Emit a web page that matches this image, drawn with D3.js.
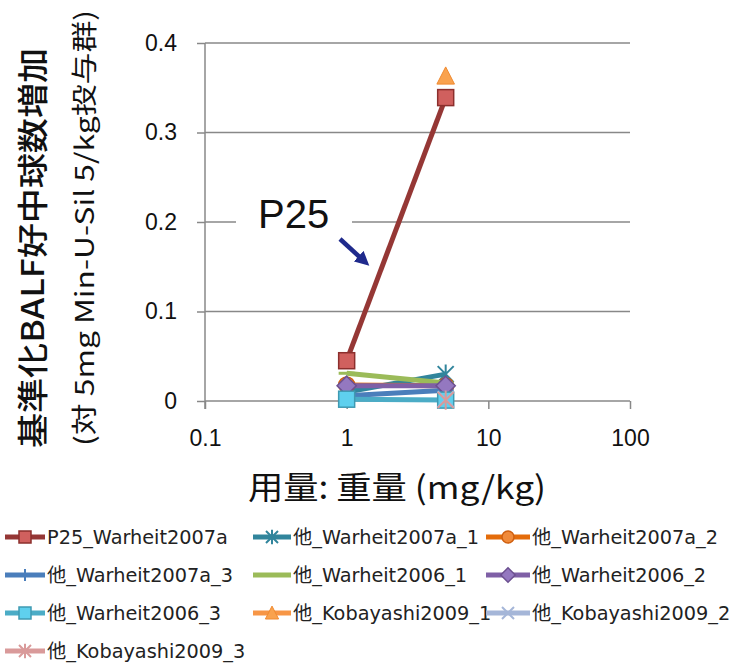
<!DOCTYPE html>
<html>
<head>
<meta charset="utf-8">
<script src="https://cdn.jsdelivr.net/npm/d3@7"></script>
<style>
  html, body { margin: 0; padding: 0; background: #fff; }
  svg { display: block; }
</style>
</head>
<body>
<svg id="chart" width="736" height="672"></svg>
<script>
// Doses (mg/kg) on a log axis
const doses = [1, 5];

// Normalised BALF neutrophil increase, one array per study series
const p25_Warheit2007a      = [0.045, 0.339];
const o_Warheit2007a_1      = [0.010, 0.030];
const o_Warheit2007a_2      = [0.018, 0.017];
const o_Warheit2007a_3      = [0.006, 0.012];
const o_Warheit2006_1       = [0.031, 0.020];
const o_Warheit2006_2       = [0.017, 0.017];
const o_Warheit2006_3       = [0.002, 0.001];
const o_Kobayashi2009_1     = [null, 0.363];
const o_Kobayashi2009_2     = [null, 0.002];
const o_Kobayashi2009_3     = [null, 0.001];

const seriesLabels = [
  "P25_Warheit2007a", "他_Warheit2007a_1", "他_Warheit2007a_2",
  "他_Warheit2007a_3", "他_Warheit2006_1", "他_Warheit2006_2",
  "他_Warheit2006_3", "他_Kobayashi2009_1", "他_Kobayashi2009_2",
  "他_Kobayashi2009_3"
];

const xTicks = [0.1, 1, 10, 100];
const xTickLabels = ["0.1", "1", "10", "100"];
const yTicks = [0, 0.1, 0.2, 0.3, 0.4];
const yTickLabels = ["0", "0.1", "0.2", "0.3", "0.4"];

const yTitle1 = "基準化BALF好中球数増加";
const yTitle2 = "(対 5mg Min-U-Sil 5/kg投与群)";
const xTitle = "用量: 重量 (mg/kg)";
const calloutText = "P25";

// Per-series look: line colour, marker shape, marker fill
const styles = [
  { line: "#953735", shape: "square",   fill: "#d0605e", edge: "#8c2f2d" },
  { line: "#31859c", shape: "star",     fill: "#31859c", edge: "#31859c" },
  { line: "#e46c0a", shape: "circle",   fill: "#f08a3a", edge: "#d06010" },
  { line: "#4a7ebb", shape: "plus",     fill: "#4a7ebb", edge: "#4a7ebb" },
  { line: "#9bbb59", shape: "dash",     fill: "#9bbb59", edge: "#9bbb59" },
  { line: "#7f60a6", shape: "diamond",  fill: "#9478c0", edge: "#6c5090" },
  { line: "#4bacc6", shape: "square",   fill: "#5fd0ee", edge: "#3f9ab2" },
  { line: "#f79646", shape: "triangle", fill: "#f9a24e", edge: "#f08a30" },
  { line: "#a5b6d8", shape: "x",        fill: "#a5b6d8", edge: "#a5b6d8" },
  { line: "#d99a9a", shape: "star",     fill: "#d99a9a", edge: "#d99a9a" }
];

const seriesValues = [
  p25_Warheit2007a, o_Warheit2007a_1, o_Warheit2007a_2, o_Warheit2007a_3,
  o_Warheit2006_1, o_Warheit2006_2, o_Warheit2006_3,
  o_Kobayashi2009_1, o_Kobayashi2009_2, o_Kobayashi2009_3
];

const series = seriesLabels.map((name, i) => ({
  name,
  style: styles[i],
  points: doses.map((d, j) => ({ x: d, y: seriesValues[i][j] })).filter(p => p.y !== null)
}));

const svg = d3.select("#chart");
const cjk = "'Noto Sans CJK JP', 'Noto Sans', sans-serif";
const latin = "'Liberation Sans', Arial, sans-serif";
const legendFont = "'DejaVu Sans', 'Noto Sans CJK JP', sans-serif";

const plot = { left: 205, right: 630, top: 43, bottom: 401 };
const x = d3.scaleLog().domain([0.1, 100]).range([plot.left, plot.right]);
const y = d3.scaleLinear().domain([0, 0.4]).range([plot.bottom, plot.top]);

const gridColor = "#888";

// horizontal gridlines
svg.append("g")
  .selectAll("line")
  .data(yTicks.filter(t => t > 0))
  .join("line")
  .attr("x1", plot.left).attr("x2", plot.right)
  .attr("y1", d => y(d)).attr("y2", d => y(d))
  .attr("stroke", gridColor).attr("stroke-width", 1.5);

// y axis
const yAxis = d3.axisLeft(y).tickValues(yTicks)
  .tickFormat((d, i) => yTickLabels[i]).tickSize(8).tickPadding(20);
const gy = svg.append("g").attr("transform", `translate(${plot.left},0)`).call(yAxis);
gy.select(".domain").attr("stroke", gridColor).attr("stroke-width", 1.5)
  .attr("d", `M0,${plot.top}V${plot.bottom + 8}`);
gy.selectAll(".tick line").attr("stroke", gridColor).attr("stroke-width", 1.5);
gy.selectAll(".tick text").attr("font-family", latin).attr("font-size", 23).attr("fill", "#111");

// x axis
const xAxis = d3.axisBottom(x).tickValues(xTicks)
  .tickFormat((d, i) => xTickLabels[i]).tickSize(8).tickPadding(21);
const gx = svg.append("g").attr("transform", `translate(0,${plot.bottom})`).call(xAxis);
gx.select(".domain").attr("stroke", gridColor).attr("stroke-width", 1.5)
  .attr("d", `M${plot.left},0H${plot.right}`);
gx.selectAll(".tick line").attr("stroke", gridColor).attr("stroke-width", 1.5);
gx.selectAll(".tick text").attr("font-family", latin).attr("font-size", 23).attr("fill", "#111");

// axis titles
svg.append("text")
  .attr("transform", "translate(44,248) rotate(-90)")
  .attr("text-anchor", "middle")
  .attr("font-family", cjk).attr("font-size", 31).attr("font-weight", 500)
  .attr("textLength", 400).attr("lengthAdjust", "spacingAndGlyphs")
  .attr("fill", "#111")
  .text(yTitle1);
svg.append("text")
  .attr("transform", "translate(94,228) rotate(-90)")
  .attr("text-anchor", "middle")
  .attr("font-family", cjk).attr("font-size", 26)
  .attr("textLength", 436).attr("lengthAdjust", "spacingAndGlyphs")
  .attr("fill", "#111")
  .text(yTitle2);
svg.append("text")
  .attr("x", 397).attr("y", 499)
  .attr("text-anchor", "middle")
  .attr("font-family", cjk).attr("font-size", 32)
  .attr("textLength", 298).attr("lengthAdjust", "spacingAndGlyphs")
  .attr("fill", "#111")
  .text(xTitle);

// marker drawing
function marker(g, shape, s, st) {
  const sw = 2;
  switch (shape) {
    case "square":
      g.append("rect").attr("x", -s).attr("y", -s).attr("width", 2 * s).attr("height", 2 * s)
        .attr("fill", st.fill).attr("stroke", st.edge).attr("stroke-width", 1.5);
      break;
    case "circle":
      g.append("circle").attr("r", s).attr("fill", st.fill).attr("stroke", st.edge).attr("stroke-width", 1.5);
      break;
    case "diamond":
      g.append("path").attr("d", `M0,${-s * 1.2}L${s * 1.2},0L0,${s * 1.2}L${-s * 1.2},0Z`)
        .attr("fill", st.fill).attr("stroke", st.edge).attr("stroke-width", 1.5);
      break;
    case "triangle":
      g.append("path").attr("d", `M0,${-s * 1.15}L${s * 1.1},${s}L${-s * 1.1},${s}Z`)
        .attr("fill", st.fill).attr("stroke", st.edge).attr("stroke-width", 1);
      break;
    case "star":
      g.append("path").attr("d", `M${-s},${-s}L${s},${s}M${-s},${s}L${s},${-s}M0,${-s * 1.2}L0,${s * 1.2}`)
        .attr("stroke", st.edge).attr("stroke-width", sw).attr("fill", "none");
      break;
    case "x":
      g.append("path").attr("d", `M${-s},${-s}L${s},${s}M${-s},${s}L${s},${-s}`)
        .attr("stroke", st.edge).attr("stroke-width", sw).attr("fill", "none");
      break;
    case "plus":
      g.append("path").attr("d", `M0,${-s}L0,${s}M${-s},0L${s},0`)
        .attr("stroke", st.edge).attr("stroke-width", sw).attr("fill", "none");
      break;
    case "dash":
      g.append("path").attr("d", `M${-s},0L${s},0`)
        .attr("stroke", st.edge).attr("stroke-width", 3).attr("fill", "none");
      break;
  }
}

// series lines and markers
const line = d3.line().x(d => x(d.x)).y(d => y(d.y));
const gSeries = svg.append("g");
series.forEach(sr => {
  const g = gSeries.append("g");
  if (sr.points.length > 1) {
    g.append("path").datum(sr.points)
      .attr("d", line)
      .attr("fill", "none")
      .attr("stroke", sr.style.line)
      .attr("stroke-width", 5)
      .attr("stroke-linejoin", "round");
  }
  sr.points.forEach(p => {
    const m = g.append("g").attr("transform", `translate(${x(p.x)},${y(p.y)})`);
    marker(m, sr.style.shape, 8, sr.style);
  });
});

// callout for P25
const callout = svg.append("g");
callout.append("rect").attr("x", 236).attr("y", 196).attr("width", 116).attr("height", 46).attr("fill", "#fff");
callout.append("text")
  .attr("x", 258).attr("y", 228)
  .attr("font-family", latin).attr("font-size", 40)
  .attr("fill", "#111")
  .text(calloutText);
svg.append("defs").append("marker")
  .attr("id", "arrowhead").attr("viewBox", "0 0 10 10")
  .attr("refX", 5).attr("refY", 5)
  .attr("markerWidth", 3.2).attr("markerHeight", 3.2)
  .attr("orient", "auto")
  .append("path").attr("d", "M0,0L10,5L0,10Z").attr("fill", "#1f2a8c");
callout.append("line")
  .attr("x1", 340).attr("y1", 239).attr("x2", 364).attr("y2", 261)
  .attr("stroke", "#1f2a8c").attr("stroke-width", 4.5)
  .attr("marker-end", "url(#arrowhead)");

// legend
const legendRows = [537, 575, 613, 651];
const legendCols = [{ m: 5, t: 47 }, { m: 253, t: 293 }, { m: 486, t: 532 }];
const gLegend = svg.append("g");
series.forEach((sr, i) => {
  const r = Math.floor(i / 3), c = i % 3;
  const col = legendCols[c];
  const cy = legendRows[r];
  const g = gLegend.append("g");
  g.append("line")
    .attr("x1", col.m).attr("x2", col.t - 2)
    .attr("y1", cy).attr("y2", cy)
    .attr("stroke", sr.style.line).attr("stroke-width", 5);
  const m = g.append("g").attr("transform", `translate(${(col.m + col.t - 2) / 2},${cy})`);
  marker(m, sr.style.shape, 6, sr.style);
  g.append("text")
    .attr("x", col.t).attr("y", cy)
    .attr("dy", "0.36em")
    .attr("font-family", legendFont).attr("font-size", 19.3)
    .attr("fill", "#222")
    .text(sr.name);
});
</script>
</body>
</html>
